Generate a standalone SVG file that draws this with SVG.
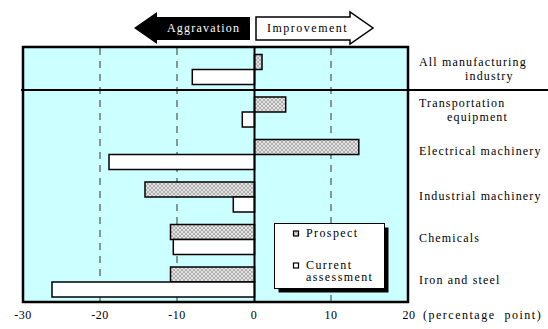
<svg xmlns="http://www.w3.org/2000/svg" width="548" height="329" viewBox="0 0 548 329" font-family="'Liberation Serif', 'Times New Roman', serif">
<defs>
<pattern id="hatch" width="4" height="4" patternUnits="userSpaceOnUse">
<rect width="4" height="4" fill="#e4e4e4"/>
<path d="M0,0 L4,4 M4,0 L0,4" stroke="#a0a0a0" stroke-width="0.8"/>
</pattern>
</defs>
<style>
text{font-family:'Liberation Serif','Times New Roman',serif;font-size:12px;fill:#000;letter-spacing:1.15px}
.p{fill:url(#hatch);stroke:#000;stroke-width:1.5}
.c{fill:#fff;stroke:#000;stroke-width:1.5}
.dash{stroke:#333;stroke-width:1;stroke-dasharray:7,6}
.ax{text-anchor:middle;letter-spacing:0.5px}
.lg{letter-spacing:1.4px}
</style>
<rect width="548" height="329" fill="#fff"/>

<g id="header">
<polygon points="134,28 157,12 157,17 250,17 250,40 157,40 157,44" fill="#000"/>
<text x="167" y="32" style="fill:#fff;letter-spacing:1.2px">Aggravation</text>
<polygon points="256,17 350,17 350,12 373,28 350,44 350,40 256,40" fill="#fff" stroke="#000" stroke-width="1.5"/>
<text x="267" y="32" style="letter-spacing:1.5px">Improvement</text>
</g>

<g id="plot">
<rect x="23" y="47" width="385" height="255" fill="#ccffff"/>
<line class="dash" x1="100" y1="48" x2="100" y2="301"/>
<line class="dash" x1="177" y1="48" x2="177" y2="301"/>
<line class="dash" x1="331" y1="48" x2="331" y2="301"/>
</g>

<g id="all-manufacturing">
<rect class="p" x="254.5" y="54.5" width="7.5" height="15"/>
<rect class="c" x="192.3" y="69.5" width="62.2" height="15"/>
<text x="419" y="66">All manufacturing</text>
<text x="465" y="79.5">industry</text>
</g>
<g id="transportation">
<rect class="p" x="254.5" y="97" width="31.2" height="15"/>
<rect class="c" x="242.3" y="112" width="12.2" height="15"/>
<text x="419" y="106.5">Transportation</text>
<text x="447" y="120.5">equipment</text>
</g>
<g id="electrical">
<rect class="p" x="254.5" y="139.5" width="104.3" height="15"/>
<rect class="c" x="109" y="154.5" width="145.5" height="15"/>
<text x="419" y="155">Electrical machinery</text>
</g>
<g id="industrial">
<rect class="p" x="145" y="182" width="109.5" height="15"/>
<rect class="c" x="233.3" y="197" width="21.2" height="15"/>
<text x="419" y="199.5">Industrial machinery</text>
</g>
<g id="chemicals">
<rect class="p" x="170.5" y="224.5" width="84" height="15"/>
<rect class="c" x="173.3" y="239.5" width="81.2" height="15"/>
<text x="419" y="241.5">Chemicals</text>
</g>
<g id="iron-steel">
<rect class="p" x="170.5" y="267" width="84" height="15"/>
<rect class="c" x="52" y="282" width="202.5" height="15"/>
<text x="419" y="283.5">Iron and steel</text>
</g>

<g id="frame">
<line x1="254.5" y1="47" x2="254.5" y2="302" stroke="#000" stroke-width="2"/>
<rect x="23" y="47" width="385" height="255" fill="none" stroke="#000" stroke-width="2.5"/>
<line x1="21" y1="90" x2="548" y2="90" stroke="#000" stroke-width="2"/>
</g>

<g id="legend">
<rect x="278.5" y="227.5" width="110" height="65" fill="#000"/>
<rect x="274.5" y="223.5" width="110" height="65" fill="#fff" stroke="#000" stroke-width="1"/>
<rect x="293.5" y="231" width="5" height="5" class="p" style="stroke-width:1.2"/>
<text class="lg" x="306" y="236.5">Prospect</text>
<rect x="293.5" y="263" width="5" height="5" class="c" style="stroke-width:1.2"/>
<text class="lg" x="306" y="268.5">Current</text>
<text class="lg" x="306" y="281">assessment</text>
</g>

<g id="axis">
<text class="ax" x="23" y="319">-30</text>
<text class="ax" x="100" y="319">-20</text>
<text class="ax" x="177" y="319">-10</text>
<text class="ax" x="254" y="319">0</text>
<text class="ax" x="331" y="319">10</text>
<text class="ax" x="409" y="319">20</text>
<text x="423" y="319" style="letter-spacing:1.5px" xml:space="preserve">(percentage  point)</text>
</g>
</svg>
